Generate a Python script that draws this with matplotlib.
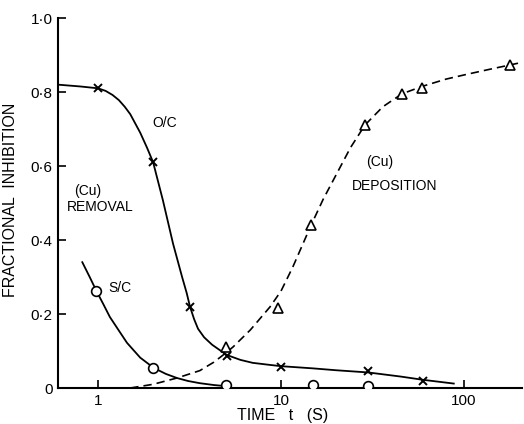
import matplotlib
matplotlib.use("Agg")
import matplotlib.pyplot as plt

plt.rcParams['font.family'] = ['Liberation Sans', 'DejaVu Sans']

# O/C (crosses) measured points and drawn curve
oc_t = [1, 2, 3.18, 5.07, 10, 30, 60]
oc_y = [0.81, 0.61, 0.22, 0.086, 0.058, 0.045, 0.02]
oc_curve_t = [0.6, 0.8, 1.0, 1.1, 1.2, 1.3, 1.4, 1.5, 1.7, 1.85, 2.0, 2.26, 2.57, 2.88, 3.05, 3.18, 3.35, 3.52,
              3.8, 4.2, 4.64, 5.07, 6.0, 7.0, 8.5, 10, 15, 20, 30, 45, 60, 88]
oc_curve_y = [0.82, 0.815, 0.81, 0.803, 0.792, 0.778, 0.76, 0.74, 0.69, 0.65, 0.61, 0.508, 0.39, 0.30, 0.257, 0.22, 0.186, 0.16,
              0.137, 0.117, 0.102, 0.089, 0.076, 0.068, 0.063, 0.059, 0.053, 0.048, 0.042, 0.031, 0.022, 0.012]

# S/C (circles)
sc_t = [0.98, 2.0, 5.0, 15, 30]
sc_y = [0.262, 0.054, 0.009, 0.008, 0.006]
sc_curve_t = [0.82, 0.9, 0.98, 1.07, 1.16, 1.3, 1.44, 1.7, 2.02, 2.35, 2.7, 3.1, 3.6, 4.3, 5.0]
sc_curve_y = [0.34, 0.30, 0.262, 0.226, 0.192, 0.155, 0.122, 0.082, 0.054, 0.038, 0.027, 0.019, 0.013, 0.008, 0.005]

# deposition (triangles)
dep_t = [5.0, 9.6, 14.6, 28.8, 45.8, 58.9, 178]
dep_y = [0.11, 0.216, 0.44, 0.711, 0.795, 0.81, 0.873]
dep_curve_t = [1.5, 2.0, 2.7, 3.6, 4.3, 5.0, 5.47, 6.8, 8.7, 10, 11.6, 14.6, 17, 20.2, 24, 28.8,
               36, 45.8, 58.9, 80, 104, 140, 178, 207]
dep_curve_y = [0.0, 0.01, 0.027, 0.047, 0.07, 0.095, 0.111, 0.157, 0.219, 0.262, 0.327, 0.44, 0.51, 0.58, 0.65, 0.711,
               0.76, 0.795, 0.815, 0.835, 0.848, 0.862, 0.873, 0.88]

fig = plt.figure(figsize=(5.24, 4.24), dpi=100)
ax = fig.add_axes([0.1107, 0.0849, 0.885, 0.8726])

ax.plot(oc_curve_t, oc_curve_y, color='black', lw=1.3)
ax.plot(oc_t, oc_y, 'x', color='black', ms=5.5, mew=1.4)

ax.plot(sc_curve_t, sc_curve_y, color='black', lw=1.3)
ax.plot(sc_t, sc_y, 'o', mfc='white', mec='black', ms=7, mew=1.2, zorder=3)

ax.plot(dep_curve_t, dep_curve_y, color='black', lw=1.2, ls=(0, (5, 3)))
ax.plot(dep_t, dep_y, '^', mfc='white', mec='black', ms=6.5, mew=1.2, zorder=3)

ax.set_xscale('log')
ax.set_xlim(0.604, 207)
ax.set_ylim(0, 1.0)
ax.set_xticks([1, 10, 100])
ax.set_xticklabels(['1', '10', '100'])
ax.minorticks_off()
ax.set_yticks([0, 0.2, 0.4, 0.6, 0.8, 1.0])
ax.set_yticklabels(['0', '0·2', '0·4', '0·6', '0·8', '1·0'])
ax.tick_params(direction='in', length=6, width=1.2, labelsize=11, pad=4)

for s in ['top', 'right']:
    ax.spines[s].set_visible(False)
for s in ['left', 'bottom']:
    ax.spines[s].set_linewidth(1.5)

ax.set_ylabel('FRACTIONAL  INHIBITION', fontsize=11.5)
ax.yaxis.set_label_coords(-0.086, 0.508)
ax.set_xlabel('TIME   t   (S)', fontsize=11.5, va='center')
ax.xaxis.set_label_coords(0.485, -0.073)

ax.text(2.32, 0.716, 'O/C', fontsize=10, ha='center', va='center')
ax.text(0.88, 0.532, '(Cu)', fontsize=10, ha='center', va='center')
ax.text(1.03, 0.489, 'REMOVAL', fontsize=10, ha='center', va='center')
ax.text(1.32, 0.27, 'S/C', fontsize=10, ha='center', va='center')
ax.text(34.7, 0.611, '(Cu)', fontsize=10, ha='center', va='center')
ax.text(42, 0.546, 'DEPOSITION', fontsize=10, ha='center', va='center')

fig.savefig('out.png', dpi=100)
